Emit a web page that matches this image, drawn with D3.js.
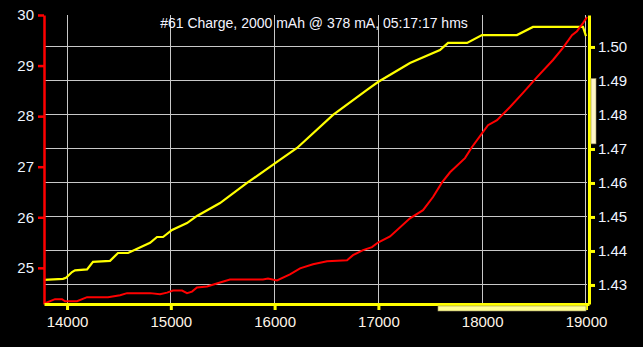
<!DOCTYPE html>
<html>
<head>
<meta charset="utf-8">
<script src="https://cdn.jsdelivr.net/npm/d3@7"></script>
<style>
  html, body { margin: 0; padding: 0; background: #000; }
  #wrapper { width: 643px; height: 347px; }
</style>
</head>
<body>
<div id="wrapper"></div>
<script>
// Data
const title = "#61 Charge, 2000 mAh @ 378 mA, 05:17:17 hms";

const voltTime = [13778, 13961, 13990, 14048, 14077, 14193, 14250, 14414, 14491, 14588,
  14800, 14867, 14925, 15012, 15156, 15252, 15474, 15734, 16023, 16216, 16563, 16890,
  16996, 17304, 17593, 17671, 17854, 17998, 18335, 18489, 18971, 19000];
const voltValues = [1.4315, 1.4318, 1.4321, 1.4338, 1.4343, 1.4346, 1.4368, 1.4371, 1.4394, 1.4394,
  1.4424, 1.4441, 1.4441, 1.4462, 1.4482, 1.4503, 1.4541, 1.4600, 1.4662, 1.4703, 1.4800, 1.4874,
  1.4897, 1.4953, 1.4991, 1.5012, 1.5012, 1.5035, 1.5035, 1.5059, 1.5059, 1.5032];

const tempTime = [13788, 13884, 13952, 13981, 14096, 14193, 14395, 14511, 14578, 14800,
  14896, 14963, 15021, 15108, 15156, 15204, 15252, 15349, 15474, 15570, 15888, 15936,
  16023, 16148, 16245, 16370, 16505, 16698, 16755, 16852, 16938, 16996, 17112, 17304,
  17430, 17526, 17613, 17690, 17834, 17902, 17998, 18056, 18143, 18268, 18393, 18528,
  18682, 18778, 18865, 18913, 18971, 19010];
const tempValues = [24.30, 24.38, 24.38, 24.34, 24.34, 24.42, 24.42, 24.46, 24.50, 24.50,
  24.48, 24.51, 24.55, 24.55, 24.50, 24.53, 24.61, 24.63, 24.71, 24.77, 24.77, 24.79,
  24.75, 24.87, 24.99, 25.07, 25.13, 25.15, 25.25, 25.35, 25.41, 25.50, 25.62, 25.98,
  26.14, 26.40, 26.69, 26.89, 27.17, 27.39, 27.66, 27.82, 27.92, 28.18, 28.46, 28.77,
  29.11, 29.35, 29.60, 29.68, 29.84, 29.96];

const xTicks = [14000, 15000, 16000, 17000, 18000, 19000];
const tempTicks = [25, 26, 27, 28, 29, 30];
const voltTicks = [1.43, 1.44, 1.45, 1.46, 1.47, 1.48, 1.49, 1.50];

// zoom range markers
const xRange = [17574, 19000];
const voltRange = [1.4907, 1.4715];

// Dimensions
let dimensions = {
  width: 643,
  height: 347,
  margins: { top: 15, right: 54, bottom: 43, left: 44 },
};
dimensions.boundedWidth = dimensions.width - dimensions.margins.left - dimensions.margins.right;
dimensions.boundedHeight = dimensions.height - dimensions.margins.top - dimensions.margins.bottom;

const wrapper = d3.select("#wrapper")
  .append("svg")
  .attr("width", dimensions.width)
  .attr("height", dimensions.height)
  .style("background", "#000");

const bounds = wrapper.append("g")
  .attr("transform", `translate(${dimensions.margins.left},${dimensions.margins.top})`);

// Scales
const xScale = d3.scaleLinear()
  .domain([13778, 19029])
  .range([0, dimensions.boundedWidth]);

const tempScale = d3.scaleLinear()
  .domain([24.285, 30])
  .range([dimensions.boundedHeight, 0]);

const voltScale = d3.scaleLinear()
  .domain([1.4244, 1.5094])
  .range([dimensions.boundedHeight, 0]);

// Grid
const grid = bounds.append("g").attr("stroke", "#c8c8c8").attr("stroke-width", 1)
  .attr("shape-rendering", "crispEdges");
grid.selectAll(".vgrid")
  .data(xTicks)
  .join("line")
  .attr("x1", d => xScale(d)).attr("x2", d => xScale(d))
  .attr("y1", 0).attr("y2", dimensions.boundedHeight);
grid.selectAll(".hgrid")
  .data(voltTicks)
  .join("line")
  .attr("class", "hgrid")
  .attr("x1", 1).attr("x2", xScale(19000) + 1)
  .attr("y1", d => voltScale(d)).attr("y2", d => voltScale(d));

// Lines
const voltLine = d3.line()
  .x((d, i) => xScale(voltTime[i]))
  .y(d => voltScale(d));
const tempLine = d3.line()
  .x((d, i) => xScale(tempTime[i]))
  .y(d => tempScale(d));

bounds.append("path")
  .attr("d", voltLine(voltValues))
  .attr("fill", "none")
  .attr("stroke", "#ffff00")
  .attr("stroke-width", 2.2);

bounds.append("path")
  .attr("d", tempLine(tempValues))
  .attr("fill", "none")
  .attr("stroke", "#ff0000")
  .attr("stroke-width", 2);

// Axes
const labelFont = "Liberation Sans, Arial, sans-serif";

const leftAxis = bounds.append("g")
  .call(d3.axisLeft(tempScale).tickValues(tempTicks).tickFormat(d3.format("d"))
    .tickSize(6).tickSizeOuter(0).tickPadding(4));
leftAxis.select(".domain").attr("stroke", "#ff0000").attr("stroke-width", 2.5);
leftAxis.selectAll(".tick line").attr("stroke", "#ff0000").attr("stroke-width", 2.5);
leftAxis.selectAll(".tick text")
  .attr("fill", "#eef4ff")
  .style("font-size", "15px")
  .style("font-family", labelFont);

const rightAxis = bounds.append("g")
  .attr("transform", `translate(${dimensions.boundedWidth},0)`)
  .call(d3.axisRight(voltScale).tickValues(voltTicks).tickFormat(d3.format(".2f"))
    .tickSize(6).tickSizeOuter(0).tickPadding(3));
rightAxis.select(".domain").attr("stroke", "#ffff00").attr("stroke-width", 3);
rightAxis.selectAll(".tick line").attr("stroke", "#ffff00").attr("stroke-width", 3);
rightAxis.selectAll(".tick text")
  .attr("fill", "#eef4ff")
  .style("font-size", "15px")
  .style("font-family", labelFont);

const xAxis = bounds.append("g")
  .attr("transform", `translate(0,${dimensions.boundedHeight})`)
  .call(d3.axisBottom(xScale).tickValues(xTicks).tickFormat(d3.format("d"))
    .tickSize(6).tickSizeOuter(0).tickPadding(6));
xAxis.select(".domain").attr("stroke", "#ffff00").attr("stroke-width", 3);
xAxis.selectAll(".tick line").attr("stroke", "#ffff00").attr("stroke-width", 3);
xAxis.selectAll(".tick text")
  .attr("fill", "#fff4e8")
  .style("font-size", "15px")
  .style("font-family", labelFont);

// Range markers
bounds.append("rect")
  .attr("x", xScale(xRange[0]))
  .attr("y", dimensions.boundedHeight + 2)
  .attr("width", xScale(xRange[1]) - xScale(xRange[0]))
  .attr("height", 5)
  .attr("fill", "#ffff90")
  .attr("stroke", "#9a9060")
  .attr("stroke-width", 0.6);
bounds.append("rect")
  .attr("x", dimensions.boundedWidth + 2)
  .attr("y", voltScale(voltRange[0]))
  .attr("width", 5)
  .attr("height", voltScale(voltRange[1]) - voltScale(voltRange[0]))
  .attr("fill", "#fff6c8")
  .attr("stroke", "#9a9060")
  .attr("stroke-width", 0.6);

// Title
wrapper.append("text")
  .attr("x", 314)
  .attr("y", 28)
  .text(title)
  .attr("fill", "#f4f4ff")
  .style("font-size", "14px")
  .style("font-family", labelFont)
  .style("text-anchor", "middle");
</script>
</body>
</html>
